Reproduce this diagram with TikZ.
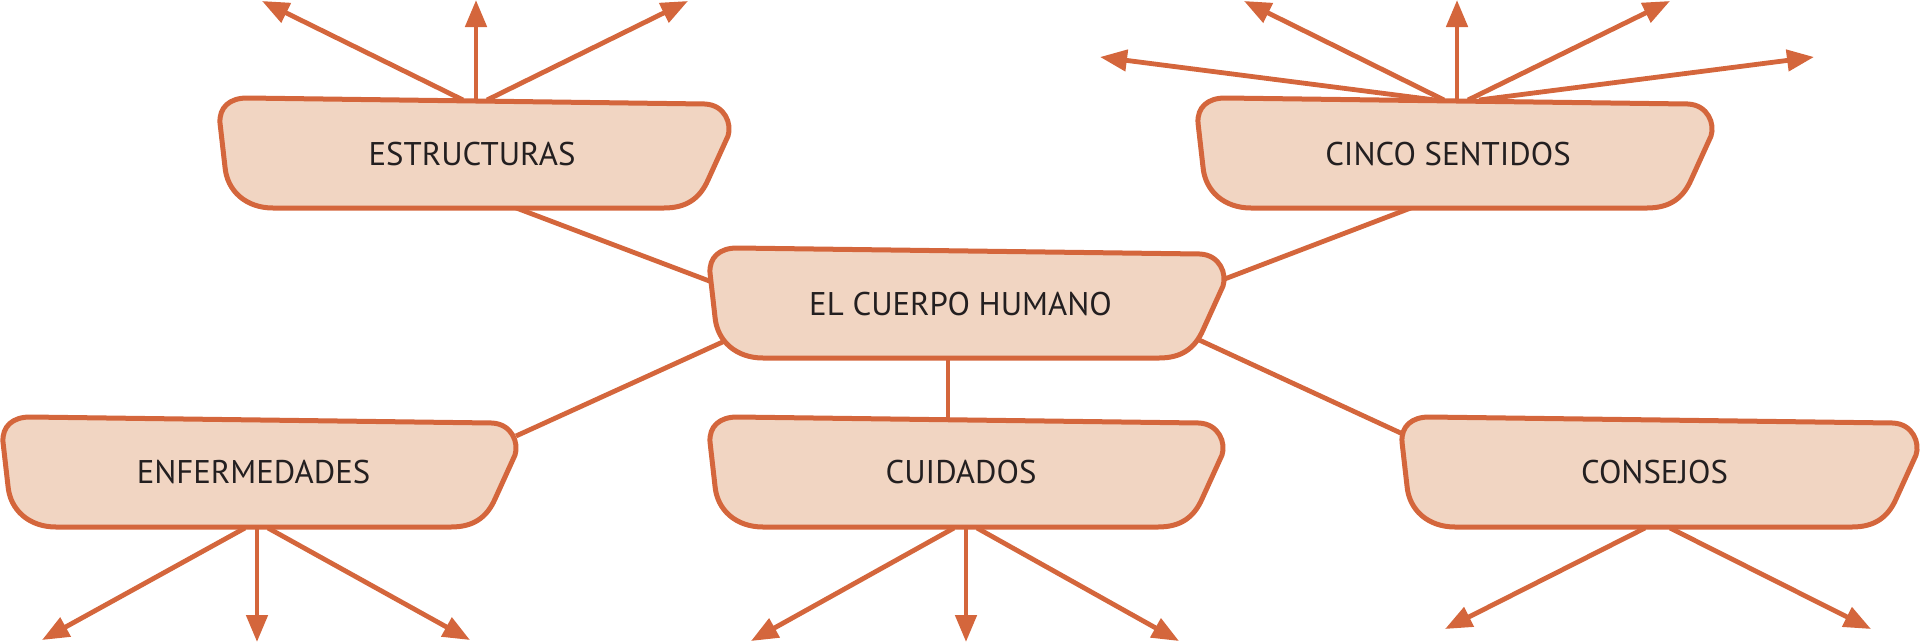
\documentclass[tikz,border=0pt]{standalone}
\usepackage{fontspec}
\setmainfont{PT Sans}
\usetikzlibrary{arrows.meta}
\definecolor{orn}{RGB}{212,102,60}
\definecolor{pch}{RGB}{241,213,194}
\definecolor{ink}{RGB}{35,31,32}
\newcommand\myblob[3]{%
  \begin{scope}[shift={(#1,#2)}]
    \path[blob] (0,25) -- (5,69) .. controls (7,93) and (26,110) .. (53,110)
      -- ({#3-65},110) .. controls ({#3-42},110) and ({#3-29},100) .. ({#3-21},82)
      -- ({#3-1},38) .. controls ({#3+3},26) and ({#3-4},7) .. ({#3-24},6)
      -- (27,0) .. controls (10,0) and (-1,9) .. cycle;
  \end{scope}}
\begin{document}
\begin{tikzpicture}[x=0.5pt,y=-0.5pt,
  blob/.style={draw=orn,fill=pch,line width=2.5pt,line join=round},
  conn/.style={draw=orn,line width=2.4pt},
  arr/.style={conn,-{Triangle[length=13.5pt,width=10.5pt]}},
  lbl/.style={font=\fontsize{16.4pt}{18pt}\selectfont,text=ink,inner sep=0pt,
    text height=11.5pt,text depth=0pt}]
\useasboundingbox (0,0) rectangle (1920,643);

% connector end points
\coordinate (estrB) at (511,206);
\coordinate (cuerL) at (712,282);
\coordinate (cincB) at (1416,206);
\coordinate (cuerR) at (1222,280);
\coordinate (cuerLL) at (727,340);
\coordinate (enfR) at (516,436);
\coordinate (cuerB) at (948,355);
\coordinate (cuidT) at (948,421);
\coordinate (cuerLR) at (1197,339);
\coordinate (consL) at (1405,435);

% arrow origins and tips
\coordinate (eo1) at (463,100); \coordinate (et1) at (262,1);
\coordinate (eo2) at (476,100); \coordinate (et2) at (476,0);
\coordinate (eo3) at (487,100); \coordinate (et3) at (688,1);

\coordinate (co1) at (1435,100); \coordinate (ct1) at (1100,57);
\coordinate (co2) at (1444,100); \coordinate (ct2) at (1244,1);
\coordinate (co3) at (1457,100); \coordinate (ct3) at (1457,0);
\coordinate (co4) at (1468,100); \coordinate (ct4) at (1670,1);
\coordinate (co5) at (1479,100); \coordinate (ct5) at (1814,57);

\coordinate (fo1) at (245,528); \coordinate (ft1) at (42,640);
\coordinate (fo2) at (257,528); \coordinate (ft2) at (257,642);
\coordinate (fo3) at (268,528); \coordinate (ft3) at (470,640);

\coordinate (uo1) at (954,528); \coordinate (ut1) at (751,641);
\coordinate (uo2) at (966,528); \coordinate (ut2) at (966,642);
\coordinate (uo3) at (977,528); \coordinate (ut3) at (1179,641);

\coordinate (so1) at (1645,528); \coordinate (st1) at (1445,629);
\coordinate (so2) at (1670,528); \coordinate (st2) at (1871,629);

% connectors
\draw[conn] (estrB) -- (cuerL);
\draw[conn] (cincB) -- (cuerR);
\draw[conn] (cuerLL) -- (enfR);
\draw[conn] (cuerB) -- (cuidT);
\draw[conn] (cuerLR) -- (consL);

\foreach \i in {1,2,3} {\draw[arr] (eo\i) -- (et\i);}
\foreach \i in {1,...,5} {\draw[arr] (co\i) -- (ct\i);}
\foreach \i in {1,2,3} {\draw[arr] (fo\i) -- (ft\i);}
\foreach \i in {1,2,3} {\draw[arr] (uo\i) -- (ut\i);}
\foreach \i in {1,2} {\draw[arr] (so\i) -- (st\i);}

% boxes
\myblob{220}{98}{509}
\myblob{1198}{98}{514}
\myblob{710}{248}{514}
\myblob{3}{417}{513}
\myblob{710}{417}{513}
\myblob{1402}{417}{515}

% labels
\node[lbl] (estr) at (472,153.5) {ESTRUCTURAS};
\node[lbl] (cinco) at (1448,153.5) {CINCO SENTIDOS};
\node[lbl] (cuerpo) at (960.5,303.5) {EL CUERPO HUMANO};
\node[lbl] (enf) at (253.5,472) {ENFERMEDADES};
\node[lbl] (cuid) at (961,472) {CUIDADOS};
\node[lbl] (cons) at (1654.5,472) {CONSEJOS};
\end{tikzpicture}
\end{document}
